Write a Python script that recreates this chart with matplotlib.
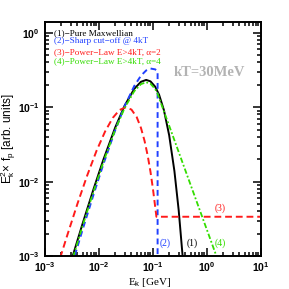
import matplotlib
matplotlib.use("Agg")
import matplotlib.pyplot as plt
from matplotlib.ticker import LogLocator, NullFormatter, FuncFormatter
import math

# (1) Pure Maxwellian
e_max = [0.0025, 0.003, 0.005, 0.008, 0.012, 0.02, 0.03, 0.045, 0.06, 0.075,
         0.09, 0.11, 0.13, 0.16, 0.2, 0.25, 0.3, 0.36, 0.4]
f_max = [5.3e-4, 8.2e-4, 2.76e-3, 8.08e-3, 1.95e-2, 5.35e-2, 0.1057, 0.1766, 0.2199, 0.233,
         0.2229, 0.189, 0.1474, 0.0911, 0.0419, 1.385e-2, 4.12e-3, 8.8e-4, 3.0e-4]

# (2) Sharp cut-off @ 4kT
e_cut = [0.0025, 0.003, 0.005, 0.008, 0.012, 0.02, 0.03, 0.045, 0.06, 0.075,
         0.09, 0.11, 0.122, 0.122]
f_cut = [4.3e-4, 6.7e-4, 2.285e-3, 6.83e-3, 1.693e-2, 4.91e-2, 0.104, 0.1927, 0.266, 0.3125,
         0.3315, 0.3229, 0.3048, 1e-4]

# (3) Power-law E>4kT, alpha=2
e_pl2 = [0.0015, 0.0018, 0.0025, 0.004, 0.006, 0.009, 0.013, 0.018, 0.024, 0.0316,
         0.04, 0.05, 0.06, 0.07, 0.08, 0.09, 0.1, 0.11, 0.116, 10.0]
f_pl2 = [5.0e-4, 8.2e-4, 1.76e-3, 5.06e-3, 1.19e-2, 2.59e-2, 4.73e-2, 7.19e-2, 9.18e-2, 0.1,
         0.093, 0.0737, 0.0527, 0.0352, 0.0223, 0.0136, 8.0e-3, 4.6e-3, 3.37e-3, 3.37e-3]

# (4) Power-law E>4kT, alpha=4
e_pl4 = [0.0025, 0.003, 0.005, 0.008, 0.012, 0.02, 0.03, 0.045, 0.06, 0.075,
         0.09, 0.11, 0.12, 0.2, 0.5, 1.0, 1.5, 2.0]
f_pl4 = [4.9e-4, 7.6e-4, 2.57e-3, 7.51e-3, 1.812e-2, 4.98e-2, 9.83e-2, 0.1642, 0.2045, 0.2167,
         0.2073, 0.1758, 0.1565, 0.0563, 9.0e-3, 2.25e-3, 1.0e-3, 5.6e-4]

legend_labels = ["(1)\u2212Pure Maxwellian", "(2)\u2212Sharp cut\u2212off @ 4kT",
                 "(3)\u2212Power\u2212Law E>4kT, \u03b1=2", "(4)\u2212Power\u2212Law E>4kT, \u03b1=4"]
colors = ["black", "#2040ff", "#ff1a1a", "#33dd00"]

plt.rcParams["mathtext.fontset"] = "custom"
plt.rcParams["mathtext.rm"] = "Liberation Sans"
plt.rcParams["mathtext.bf"] = "Liberation Sans:bold"
plt.rcParams["mathtext.it"] = "Liberation Sans:italic"

fig = plt.figure(figsize=(2.89, 2.89), dpi=100)
ax = fig.add_axes([0.1557, 0.1142, 0.747, 0.8097])

ax.plot(e_max, f_max, color=colors[0], lw=1.4, ls="-")
ax.plot(e_cut, f_cut, color=colors[1], lw=1.4, ls=(0, (3, 2)))
ax.plot(e_pl2, f_pl2, color=colors[2], lw=1.4, ls=(0, (3.5, 2)))
ax.plot(e_pl4, f_pl4, color=colors[3], lw=1.3, ls=(0, (3, 1.2, 1, 1.2)))

ax.set_xscale("log")
ax.set_yscale("log")
ax.set_xlim(1e-3, 10)
ax.set_ylim(1e-3, 1.4)

def fmt(v, pos):
    return r"$\mathbf{10^{%d}}$" % int(round(math.log10(v)))

for s in ax.spines.values():
    s.set_linewidth(1.4)
ax.xaxis.set_major_locator(LogLocator(base=10, numticks=10))
ax.xaxis.set_minor_locator(LogLocator(base=10, subs=range(2, 10), numticks=20))
ax.yaxis.set_major_locator(LogLocator(base=10, numticks=10))
ax.yaxis.set_minor_locator(LogLocator(base=10, subs=range(2, 10), numticks=20))
ax.xaxis.set_major_formatter(FuncFormatter(fmt))
ax.yaxis.set_major_formatter(FuncFormatter(fmt))
ax.xaxis.set_minor_formatter(NullFormatter())
ax.yaxis.set_minor_formatter(NullFormatter())
ax.tick_params(which="both", direction="in", top=True, right=True, width=1.1)
ax.tick_params(which="major", length=6, labelsize=7.5, pad=4)
ax.tick_params(axis="x", which="major", pad=3)
ax.tick_params(which="minor", length=3)

ax.set_xlabel(r"E$_{\rm k}$ [GeV]", family="Liberation Serif", fontsize=8)
ax.xaxis.set_label_coords(0.486, -0.086)
ax.set_ylabel(r"E$_{\rm k}^{2}$$\times$ f$_{\rm p}$ [arb. units]",
              family="Liberation Sans", fontsize=8.5)
ax.yaxis.set_label_coords(-0.125, 0.5)

ytxt = [0.952, 0.919, 0.873, 0.833]
for lab, c, yy in zip(legend_labels, colors, ytxt):
    ax.text(0.04, yy, lab, transform=ax.transAxes, color=c, fontsize=6.6,
            family="Liberation Serif", va="center", ha="left")

ax.text(0.764, 0.786, "kT=30MeV", transform=ax.transAxes, color="#b3b3b3", fontsize=10.5,
        family="Liberation Serif", fontweight="bold", ha="center", va="center")

ax.text(0.81, 0.205, "(3)", transform=ax.transAxes, color=colors[2], fontsize=7,
        family="Liberation Serif", ha="center", va="center")
ax.text(0.555, 0.055, "(2)", transform=ax.transAxes, color=colors[1], fontsize=7,
        family="Liberation Serif", ha="center", va="center")
ax.text(0.68, 0.055, "(1)", transform=ax.transAxes, color=colors[0], fontsize=7,
        family="Liberation Serif", ha="center", va="center")
ax.text(0.81, 0.055, "(4)", transform=ax.transAxes, color=colors[3], fontsize=7,
        family="Liberation Serif", ha="center", va="center")

fig.savefig("out.png", dpi=100)
